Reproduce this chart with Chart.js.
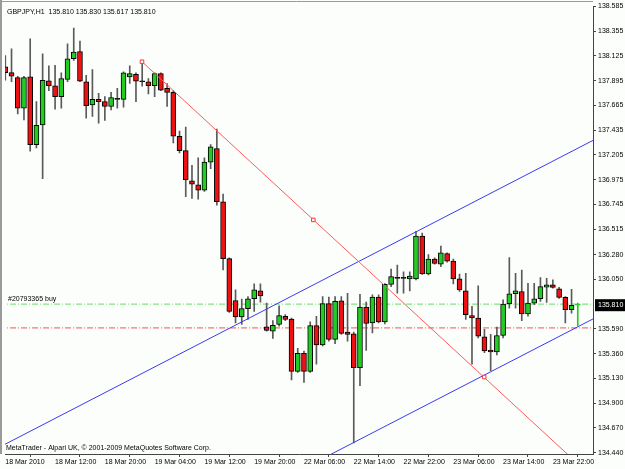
<!DOCTYPE html>
<html>
<head>
<meta charset="utf-8">
<script src="https://cdn.jsdelivr.net/npm/chart.js@4"></script>
<style>
  html, body { margin: 0; padding: 0; background: #fcfefc; }
  canvas { display: block; }
</style>
</head>
<body>
<canvas id="graph" width="625" height="469"></canvas>
<script>
// GBPJPY H1 candles, oldest first
var opens = [
  138.023, 137.970, 137.924, 137.639, 137.931, 137.301, 137.485, 137.894, 137.848, 137.747,
  137.906, 138.099, 138.166, 137.885, 137.669, 137.722, 137.701, 137.655, 137.721, 137.722,
  137.931, 137.955, 137.885, 137.885, 137.848, 137.961, 137.823, 137.786, 137.379, 137.246,
  136.965, 136.928, 136.878, 137.139, 137.265, 136.771, 136.243, 135.854, 135.701, 135.778,
  135.870, 135.943, 135.609, 135.569, 135.631, 135.707, 135.682, 135.195, 135.364, 135.195,
  135.621, 135.440, 135.824, 135.493, 135.851, 135.560, 135.544, 135.231, 135.793, 135.645,
  135.885, 135.655, 136.004, 136.059, 136.059, 136.054, 136.054, 136.452, 136.100, 136.238,
  136.191, 136.289, 136.219, 136.054, 135.943, 135.713, 135.691, 135.517, 135.394, 135.376,
  135.529, 135.824, 135.916, 135.937, 135.728, 135.829, 135.870, 135.977, 135.999, 135.962,
  135.882, 135.769, 135.810
];
var highs = [
  138.129, 138.191, 137.936, 137.936, 138.283, 137.701, 138.145, 138.032, 138.037, 137.967,
  138.237, 138.384, 138.262, 137.945, 137.998, 137.777, 137.747, 137.786, 137.823, 137.977,
  138.032, 137.967, 138.059, 137.915, 137.967, 137.967, 137.869, 137.802, 137.427, 137.464,
  137.108, 137.179, 137.179, 137.301, 137.446, 136.841, 136.250, 135.953, 135.866, 135.891,
  136.008, 136.008, 135.829, 135.667, 135.805, 135.723, 135.691, 135.410, 135.385, 135.655,
  135.707, 135.891, 135.885, 135.891, 135.891, 135.921, 135.560, 135.912, 135.839, 135.907,
  135.907, 136.010, 136.146, 136.183, 136.121, 136.121, 136.495, 136.480, 136.280, 136.250,
  136.360, 136.296, 136.238, 136.100, 136.105, 135.799, 135.989, 135.585, 135.539, 135.606,
  135.861, 136.253, 136.105, 136.137, 136.013, 136.013, 136.066, 136.059, 136.045, 135.977,
  135.891, 135.958, 135.830
];
var lows = [
  137.899, 137.885, 137.587, 137.531, 137.241, 137.271, 136.986, 137.802, 137.630, 137.639,
  137.885, 138.083, 137.885, 137.547, 137.563, 137.501, 137.526, 137.623, 137.639, 137.648,
  137.869, 137.701, 137.844, 137.771, 137.747, 137.802, 137.655, 137.317, 137.225, 136.817,
  136.802, 136.795, 136.866, 137.078, 136.740, 136.137, 135.744, 135.645, 135.631, 135.677,
  135.753, 135.839, 135.569, 135.502, 135.615, 135.667, 135.115, 135.185, 135.093, 135.185,
  135.263, 135.431, 135.477, 135.452, 135.539, 135.477, 134.532, 135.063, 135.391, 135.553,
  135.645, 135.636, 135.983, 135.921, 135.921, 135.943, 136.045, 136.095, 136.091, 136.191,
  136.167, 136.210, 136.008, 135.937, 135.677, 135.263, 135.507, 135.369, 135.201, 135.348,
  135.507, 135.783, 135.783, 135.667, 135.707, 135.815, 135.845, 135.836, 135.967, 135.873,
  135.645, 135.737, 135.617
];
var closes = [
  137.970, 137.936, 137.639, 137.924, 137.301, 137.480, 137.899, 137.848, 137.747, 137.915,
  138.099, 138.161, 137.890, 137.664, 137.722, 137.701, 137.655, 137.737, 137.721, 137.967,
  137.961, 137.890, 137.885, 137.848, 137.961, 137.807, 137.786, 137.379, 137.246, 136.974,
  136.933, 136.878, 137.139, 137.280, 136.771, 136.243, 135.753, 135.701, 135.778, 135.870,
  135.953, 135.897, 135.575, 135.624, 135.713, 135.677, 135.195, 135.364, 135.195, 135.621,
  135.440, 135.824, 135.493, 135.845, 135.548, 135.539, 135.231, 135.793, 135.640, 135.885,
  135.655, 136.004, 136.075, 136.059, 136.059, 136.081, 136.452, 136.100, 136.238, 136.197,
  136.296, 136.219, 136.054, 135.953, 135.723, 135.691, 135.523, 135.385, 135.376, 135.529,
  135.820, 135.916, 135.943, 135.728, 135.829, 135.870, 135.983, 135.999, 135.974, 135.882,
  135.769, 135.808, 135.810
];

var timeTickBars = [0, 8, 16, 24, 32, 40, 48, 56, 64, 72, 80, 88];
var timeLabels = [
  "18 Mar 2010", "18 Mar 12:00", "18 Mar 20:00", "19 Mar 04:00", "19 Mar 12:00", "19 Mar 20:00",
  "22 Mar 06:00", "22 Mar 14:00", "22 Mar 22:00", "23 Mar 06:00", "23 Mar 14:00", "23 Mar 22:00"
];
var priceTicks = [
  138.585, 138.355, 138.125, 137.895, 137.665, 137.435, 137.205, 136.975, 136.745,
  136.515, 136.280, 136.050, 135.590, 135.360, 135.130, 134.900, 134.670, 134.440
];

// drawn objects (bar index, price)
var channelUpper = [{ x: -1, y: 134.490 }, { x: 95, y: 137.357 }];
var channelLower = [{ x: 50, y: 134.356 }, { x: 95, y: 135.699 }];
var trendLine = [{ x: 21.97, y: 138.071 }, { x: 95, y: 134.178 }];
var trendPoints = [{ x: 21.97, y: 138.071 }, { x: 49.5, y: 136.602 }, { x: 76.96, y: 135.143 }];
var orderPrice = 135.820;
var stopPrice = 135.599;

var symbol = "GBPJPY,H1";
var orderLabel = "#20793365 buy";
var copyright = "MetaTrader - Alpari UK, \u00a9 2001-2009 MetaQuotes Software Corp.";

var n = closes.length;
var bull = "#22cc22";
var bear = "#ee1111";

function bodyColor(i) {
  if (i === n - 1) return bull;
  if (closes[i] > opens[i]) return bull;
  if (closes[i] < opens[i]) return bear;
  return "#000";
}

var wickData = [], bodyData = [], bodyColors = [], bodyBorders = [], wickColors = [];
for (var i = 0; i < n; i++) {
  wickData.push({ x: i, y: [lows[i], highs[i]] });
  bodyData.push({ x: i, y: [opens[i], closes[i]] });
  bodyColors.push(bodyColor(i));
  bodyBorders.push(i === n - 1 ? bull : "#000");
  wickColors.push(i === n - 1 ? bull : "#5a5a5a");
}

function hline(price) {
  return [{ x: -1, y: price }, { x: 95, y: price }];
}

var font = { family: "Liberation Sans", size: 7 };

var mtLabels = {
  id: "mtLabels",
  beforeDraw: function (chart) {
    var ctx = chart.ctx;
    ctx.save();
    ctx.fillStyle = "#fcfefc";
    ctx.fillRect(0, 0, chart.width, chart.height);
    ctx.restore();
  },
  afterDraw: function (chart) {
    var ctx = chart.ctx, a = chart.chartArea, ys = chart.scales.y;
    ctx.save();
    // window frame
    ctx.strokeStyle = "#9a9a9a";
    ctx.lineWidth = 2;
    ctx.beginPath(); ctx.moveTo(1, 0); ctx.lineTo(1, a.bottom); ctx.stroke();
    ctx.lineWidth = 1;
    ctx.beginPath(); ctx.moveTo(0, 1.5); ctx.lineTo(a.right, 1.5); ctx.stroke();

    ctx.font = '7px "Liberation Sans"';
    ctx.fillStyle = "#000";
    ctx.textBaseline = "middle";
    var last = n - 1;
    var head = symbol + "  " + [opens[last], highs[last], lows[last], closes[last]]
      .map(function (v) { return v.toFixed(3); }).join(" ");
    ctx.fillText(head, a.left + 2, a.top + 6);
    ctx.fillText(orderLabel, a.left + 3, ys.getPixelForValue(orderPrice) - 5);
    ctx.fillText(copyright, a.left + 1, a.bottom - 5.5);

    // current price box
    var py = ys.getPixelForValue(closes[last]);
    ctx.fillStyle = "#000";
    ctx.fillRect(a.right + 2, py - 6, 30, 12);
    ctx.fillStyle = "#fff";
    ctx.fillText(closes[last].toFixed(3), a.right + 5, py);
    ctx.restore();
  }
};

var chart = new Chart(document.getElementById("graph").getContext("2d"), {
  type: "bar",
  data: {
    datasets: [
      {
        type: "line",
        data: hline(orderPrice),
        borderColor: "#66dd66",
        borderWidth: 1,
        borderDash: [6, 2, 1, 2],
        pointRadius: 0,
        order: 5
      },
      {
        type: "line",
        data: hline(stopPrice),
        borderColor: "#ee5555",
        borderWidth: 1,
        borderDash: [6, 2, 1, 2],
        pointRadius: 0,
        order: 5
      },
      {
        data: wickData,
        backgroundColor: wickColors,
        barThickness: 1,
        grouped: false,
        order: 4
      },
      {
        data: bodyData,
        backgroundColor: bodyColors,
        borderColor: bodyBorders,
        borderWidth: 1,
        borderSkipped: false,
        barThickness: 5,
        minBarLength: 1,
        grouped: false,
        order: 3
      },
      {
        type: "line",
        data: channelUpper,
        borderColor: "#3a3af0",
        borderWidth: 1,
        pointRadius: 0,
        order: 2
      },
      {
        type: "line",
        data: channelLower,
        borderColor: "#3a3af0",
        borderWidth: 1,
        pointRadius: 0,
        order: 2
      },
      {
        type: "line",
        data: trendLine,
        borderColor: "#ff5a5a",
        borderWidth: 1,
        pointRadius: 0,
        order: 1
      },
      {
        type: "line",
        data: trendPoints,
        showLine: false,
        pointStyle: "rect",
        pointRadius: 2.5,
        pointBorderWidth: 1,
        pointBorderColor: "#ff3333",
        pointBackgroundColor: "#fcfefc",
        order: 0
      }
    ]
  },
  options: {
    responsive: false,
    animation: false,
    layout: { padding: { left: 3, top: 2, right: 0, bottom: 0 } },
    plugins: {
      legend: { display: false },
      tooltip: { enabled: false }
    },
    scales: {
      x: {
        type: "linear",
        min: -0.048,
        max: 94.448,
        offset: false,
        grid: { drawOnChartArea: false, drawTicks: true, tickLength: 3, color: "#444" },
        border: { display: true, color: "#444" },
        ticks: {
          align: "start",
          maxRotation: 0,
          autoSkip: false,
          padding: 1,
          color: "#000",
          font: font,
          callback: function (v, idx) { return timeLabels[idx]; }
        },
        afterBuildTicks: function (s) {
          s.ticks = timeTickBars.map(function (v) { return { value: v }; });
        },
        afterFit: function (s) { s.height = 15; }
      },
      y: {
        type: "linear",
        position: "right",
        min: 134.4282,
        max: 138.5866,
        grid: { drawOnChartArea: false, drawTicks: true, tickLength: 3, color: "#444" },
        border: { display: true, color: "#444" },
        ticks: {
          autoSkip: false,
          padding: 2,
          color: "#000",
          font: font,
          callback: function (v) { return Number(v).toFixed(3); }
        },
        afterBuildTicks: function (s) {
          s.ticks = priceTicks.map(function (v) { return { value: v }; });
        },
        afterFit: function (s) { s.width = 32; }
      }
    }
  },
  plugins: [mtLabels]
});
</script>
</body>
</html>
